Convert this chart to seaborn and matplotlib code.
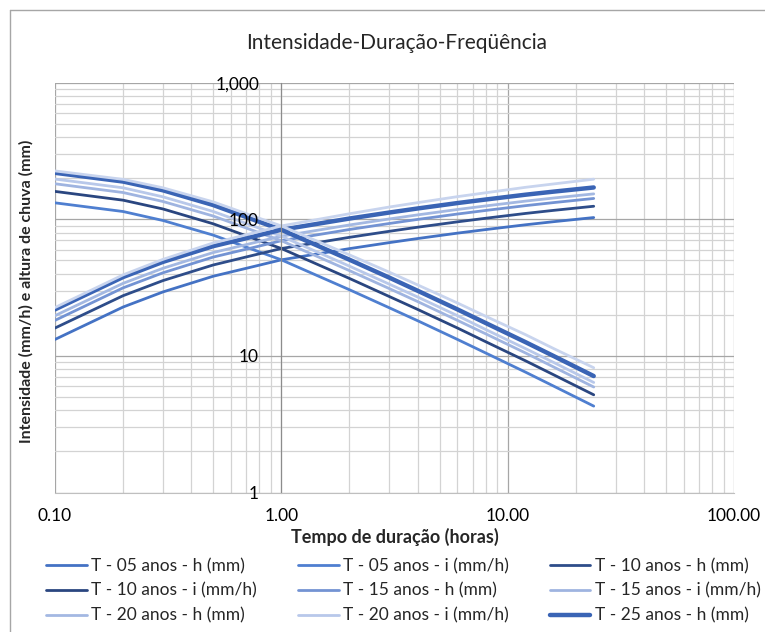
import matplotlib
matplotlib.use('Agg')
import matplotlib.pyplot as plt
import matplotlib.ticker as mticker
from matplotlib.lines import Line2D
import pandas as pd
import seaborn as sns

# Duration (hours)
duracao = [0.1, 0.2, 0.3, 0.5, 0.75, 1, 2, 3, 4, 6, 8, 12, 16, 24]

# Intensity i (mm/h) and rainfall depth h (mm) per return period
i_05 = [132, 114, 98, 76.6, 60.0, 50.5, 30.5, 22.5, 18.1, 13.2, 10.5, 7.6, 6.0, 4.29]
h_05 = [13.2, 22.8, 29.4, 38.3, 45.0, 50.5, 61.0, 67.5, 72.3, 79.2, 84.1, 91.2, 96.1, 103]
i_10 = [160, 138, 119, 92.7, 72.6, 61.1, 36.9, 27.2, 21.9, 16.0, 12.7, 9.2, 7.26, 5.19]
h_10 = [16.0, 27.6, 35.6, 46.3, 54.5, 61.1, 73.8, 81.7, 87.5, 95.8, 101.8, 110.4, 116.3, 124.6]
i_15 = [182, 157, 135, 105.7, 82.8, 69.7, 42.1, 31.1, 25.0, 18.2, 14.5, 10.5, 8.28, 5.92]
h_15 = [18.2, 31.5, 40.6, 52.9, 62.1, 69.7, 84.2, 93.2, 99.8, 109.3, 116.1, 125.9, 132.6, 142.1]
i_20 = [197, 170, 146, 114.1, 89.4, 75.2, 45.4, 33.5, 27.0, 19.7, 15.6, 11.3, 8.94, 6.39]
h_20 = [19.7, 34.0, 43.8, 57.1, 67.1, 75.2, 90.9, 100.6, 107.7, 118.0, 125.3, 135.9, 143.2, 153.5]
i_25 = [219, 189, 163, 127.2, 99.6, 83.8, 50.6, 37.4, 30.0, 21.9, 17.4, 12.6, 9.96, 7.12]
h_25 = [21.9, 37.8, 48.8, 63.6, 74.7, 83.8, 101.3, 112.1, 120.0, 131.5, 139.6, 151.4, 159.5, 171]
i_50 = [226, 196, 170, 134.1, 105.6, 89.4, 54.9, 41.0, 33.1, 24.4, 19.5, 14.3, 11.3, 8.19]
h_50 = [22.6, 39.2, 50.9, 67.1, 79.2, 89.4, 109.8, 123.0, 132.4, 146.5, 156.4, 171.5, 181.6, 196.7]

series = [
    ('T - 05 anos - h (mm)', h_05, '#4472C4', 2.0),
    ('T - 05 anos - i (mm/h)', i_05, '#4F7FD0', 2.0),
    ('T - 10 anos - h (mm)', h_10, '#2E4D8A', 2.0),
    ('T - 10 anos - i (mm/h)', i_10, '#2A4680', 2.0),
    ('T - 15 anos - h (mm)', h_15, '#7393D3', 2.0),
    ('T - 15 anos - i (mm/h)', i_15, '#9FB4E0', 2.0),
    ('T - 20 anos - h (mm)', h_20, '#A3B8E2', 2.0),
    ('T - 20 anos - i (mm/h)', i_20, '#B8C8EA', 2.0),
    ('T - 25 anos - h (mm)', h_25, '#3A64B5', 3.2),
    ('T - 25 anos - i (mm/h)', i_25, '#3A64B5', 3.2),
    ('T - 50 anos - h (mm)', h_50, '#C8D4EE', 2.0),
    ('T - 50 anos - i (mm/h)', i_50, '#C8D4EE', 2.0),
]

sns.set_style('white')
plt.rcParams['font.family'] = ['Lato', 'DejaVu Sans']

fig = plt.figure(figsize=(7.65, 6.32), dpi=100)
rect = [55 / 765, 1 - 492.5 / 632, (734 - 55) / 765, (492.5 - 82.7) / 632]
ax = fig.add_axes(rect)

for name, vals, color, lw in series:
    df = pd.DataFrame({'t': duracao, 'v': vals})
    sns.lineplot(data=df, x='t', y='v', ax=ax, color=color, linewidth=lw,
                 label=name, sort=False)

for a in [ax]:
    a.set_xscale('log')
    a.set_yscale('log')
    a.set_xlim(0.1, 100)
    a.set_ylim(1, 1000)

# Grid
ax.xaxis.set_minor_locator(mticker.LogLocator(base=10, subs=range(2, 10)))
ax.yaxis.set_minor_locator(mticker.LogLocator(base=10, subs=range(2, 10)))
ax.grid(which='major', color='#A6A6A6', linewidth=0.9)
ax.grid(which='minor', color='#D3D3D3', linewidth=0.9)
ax.set_axisbelow(True)

ax.xaxis.set_major_formatter(mticker.FuncFormatter(lambda v, p: f'{v:.2f}'))
ax.xaxis.set_minor_formatter(mticker.NullFormatter())
ax.yaxis.set_major_formatter(mticker.NullFormatter())
ax.yaxis.set_minor_formatter(mticker.NullFormatter())

# y axis crosses at x = 1
ax.spines['left'].set_position(('data', 1.0))
ax.spines['left'].set_color('#8C8C8C')
ax.spines['bottom'].set_color('#BFBFBF')
ax.spines['top'].set_visible(False)
ax.spines['right'].set_visible(False)
ax.tick_params(axis='both', which='both', length=0)
ax.tick_params(axis='x', labelsize=12.5, pad=11, colors='#000000')

ax.set_xlabel('Tempo de duração (horas)', fontsize=13, fontweight='bold', labelpad=3)
ax.set_ylabel('Intensidade (mm/h) e altura de chuva (mm)', fontsize=11.5, fontweight='bold')
ax.yaxis.set_label_coords(-0.032, 0.49)

# overlay axes so the y tick labels sit on top of the lines
ax2 = fig.add_axes(rect, frameon=False)
ax2.set_xscale('log')
ax2.set_yscale('log')
ax2.set_xlim(0.1, 100)
ax2.set_ylim(1, 1000)
ax2.patch.set_visible(False)
ax2.xaxis.set_visible(False)
ax2.spines['left'].set_position(('data', 1.0))
ax2.spines['left'].set_visible(False)
ax2.yaxis.set_major_formatter(mticker.FuncFormatter(lambda v, p: f'{v:,.0f}'))
ax2.yaxis.set_minor_formatter(mticker.NullFormatter())
ax2.tick_params(axis='y', which='both', length=0, labelsize=12.5, pad=16, colors='#000000')

fig.text(397 / 765, 1 - 43 / 632, 'Intensidade-Duração-Freqüência', ha='center', va='center',
         fontsize=15)

# Legend (row-wise order, first 9 entries)
handles, labels = ax.get_legend_handles_labels()
ax.get_legend().remove()
order = [0, 3, 6, 1, 4, 7, 2, 5, 8]
fig.legend([handles[k] for k in order], [labels[k] for k in order], ncol=3,
           loc='upper left', bbox_to_anchor=(46 / 765, 1 - 558 / 632), frameon=False,
           fontsize=12.5, handlelength=2.36, handletextpad=0.24, columnspacing=2.35,
           labelspacing=0.5, borderpad=0, borderaxespad=0)

# Chart border
fig.add_artist(Line2D([9.5 / 765, 9.5 / 765], [0, 1 - 9.5 / 632], color='#A6A6A6', lw=1))
fig.add_artist(Line2D([9.5 / 765, 1], [1 - 9.5 / 632, 1 - 9.5 / 632], color='#A6A6A6', lw=1))

fig.savefig('out.png', dpi=100)
